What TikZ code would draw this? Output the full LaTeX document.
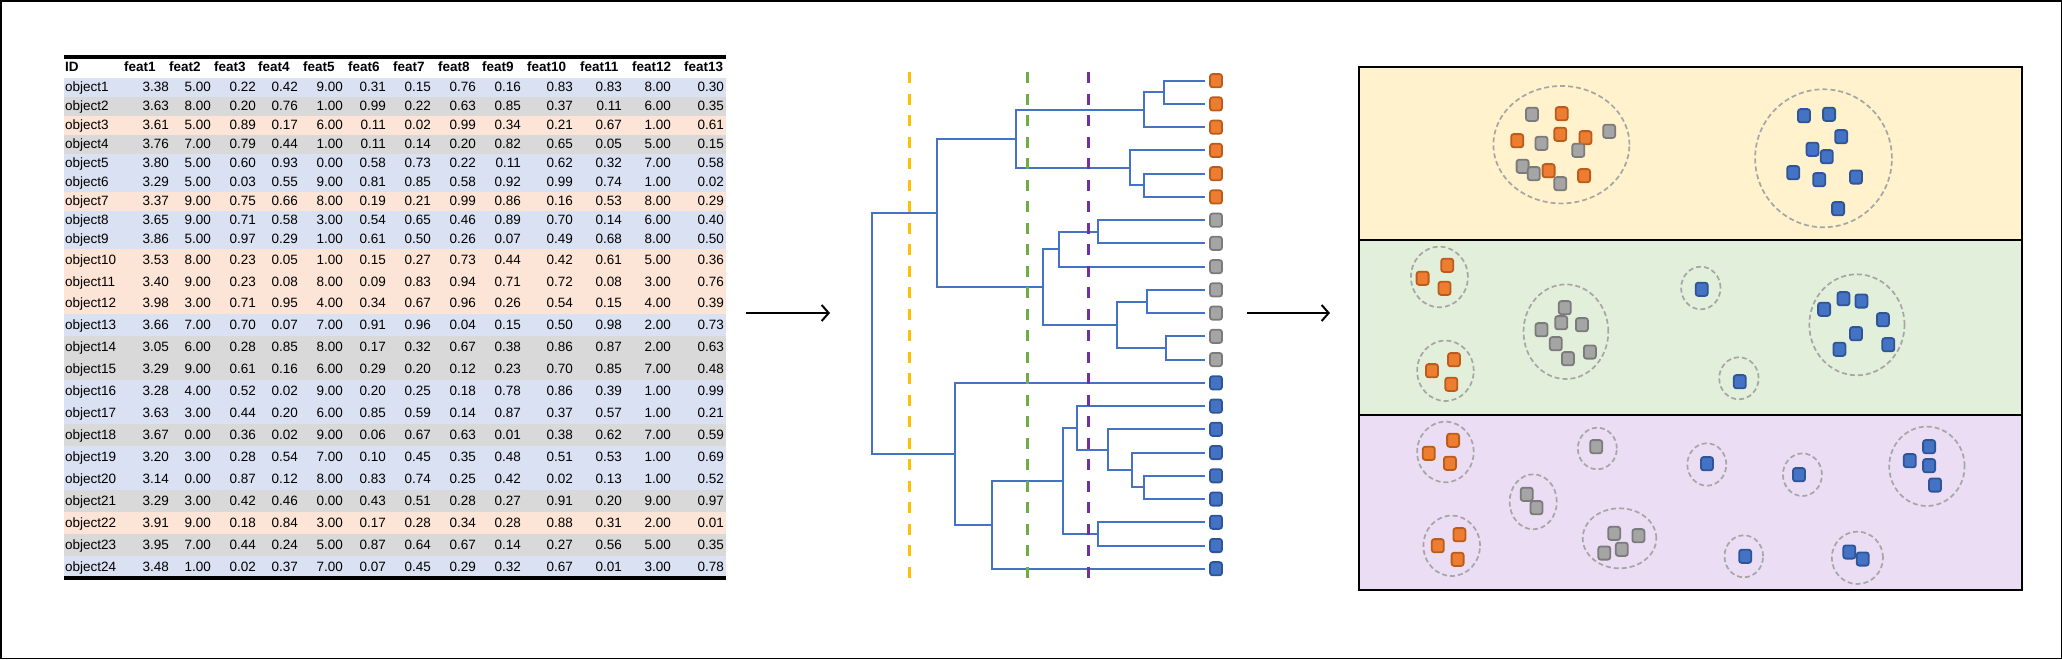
\documentclass[tikz,border=0pt]{standalone}
\usepackage{fontspec}
\setmainfont{Liberation Sans}
\usetikzlibrary{arrows.meta}
\definecolor{rowblue}{HTML}{D9E1F2}
\definecolor{rowgray}{HTML}{D9D9D9}
\definecolor{roworange}{HTML}{FCE4D6}
\definecolor{dendblue}{HTML}{4472C4}
\definecolor{ofill}{HTML}{ED7D31}
\definecolor{oline}{HTML}{BC5C1C}
\definecolor{gfill}{HTML}{A5A5A5}
\definecolor{gline}{HTML}{7B7B7B}
\definecolor{bfill}{HTML}{4472C4}
\definecolor{bline}{HTML}{2F5597}
\definecolor{cutyellow}{HTML}{FFC000}
\definecolor{cutgreen}{HTML}{70AD47}
\definecolor{cutpurple}{HTML}{7030A0}
\definecolor{bandyellow}{HTML}{FFF2CC}
\definecolor{bandgreen}{HTML}{E2EFDA}
\definecolor{bandpurple}{HTML}{EADDF4}
\definecolor{ringgray}{HTML}{A6A6A6}

\begin{document}
\begin{tikzpicture}[x=1pt,y=-1pt,
  font=\fontsize{13.5}{16}\selectfont,
  num/.style={anchor=base east,inner sep=0pt},
  lbl/.style={anchor=base west,inner sep=0pt},
  hd/.style={anchor=base west,inner sep=0pt,font=\fontsize{13.5}{16}\selectfont\bfseries},
  obj/.style={rectangle,rounded corners=2.5pt,minimum width=12pt,minimum height=13.2pt,inner sep=0pt,line width=1.8pt},
  leaf/.style={outer xsep=5pt},
  dend/.style={draw=dendblue,line width=2pt},
  cut/.style={line width=3pt,dash pattern=on 11pt off 10.5pt},
  ring/.style={draw=ringgray,line width=1.7pt,dash pattern=on 5pt off 3pt},
  band/.style={draw=black,line width=2.5pt}]
\useasboundingbox (0,0) rectangle (2062,659);
\draw[line width=1.5pt] (0.75,0.75) rectangle (2061.25,658.25);

% data table
\foreach \n/\yc/\h/\c/\vals in {
  1/87/19/rowblue/{3.38,5.00,0.22,0.42,9.00,0.31,0.15,0.76,0.16,0.83,0.83,8.00,0.30},
  2/106/19/rowgray/{3.63,8.00,0.20,0.76,1.00,0.99,0.22,0.63,0.85,0.37,0.11,6.00,0.35},
  3/125/19/roworange/{3.61,5.00,0.89,0.17,6.00,0.11,0.02,0.99,0.34,0.21,0.67,1.00,0.61},
  4/144/19/rowgray/{3.76,7.00,0.79,0.44,1.00,0.11,0.14,0.20,0.82,0.65,0.05,5.00,0.15},
  5/163/19/rowblue/{3.80,5.00,0.60,0.93,0.00,0.58,0.73,0.22,0.11,0.62,0.32,7.00,0.58},
  6/182/19/rowblue/{3.29,5.00,0.03,0.55,9.00,0.81,0.85,0.58,0.92,0.99,0.74,1.00,0.02},
  7/201/19/roworange/{3.37,9.00,0.75,0.66,8.00,0.19,0.21,0.99,0.86,0.16,0.53,8.00,0.29},
  8/220/19/rowblue/{3.65,9.00,0.71,0.58,3.00,0.54,0.65,0.46,0.89,0.70,0.14,6.00,0.40},
  9/239/19/rowblue/{3.86,5.00,0.97,0.29,1.00,0.61,0.50,0.26,0.07,0.49,0.68,8.00,0.50},
  10/259.4/21.8/roworange/{3.53,8.00,0.23,0.05,1.00,0.15,0.27,0.73,0.44,0.42,0.61,5.00,0.36},
  11/281.2/21.8/roworange/{3.40,9.00,0.23,0.08,8.00,0.09,0.83,0.94,0.71,0.72,0.08,3.00,0.76},
  12/303/21.8/roworange/{3.98,3.00,0.71,0.95,4.00,0.34,0.67,0.96,0.26,0.54,0.15,4.00,0.39},
  13/325/22/rowblue/{3.66,7.00,0.70,0.07,7.00,0.91,0.96,0.04,0.15,0.50,0.98,2.00,0.73},
  14/347/22/rowgray/{3.05,6.00,0.28,0.85,8.00,0.17,0.32,0.67,0.38,0.86,0.87,2.00,0.63},
  15/369/22/rowgray/{3.29,9.00,0.61,0.16,6.00,0.29,0.20,0.12,0.23,0.70,0.85,7.00,0.48},
  16/391/22/rowblue/{3.28,4.00,0.52,0.02,9.00,0.20,0.25,0.18,0.78,0.86,0.39,1.00,0.99},
  17/413/22/rowblue/{3.63,3.00,0.44,0.20,6.00,0.85,0.59,0.14,0.87,0.37,0.57,1.00,0.21},
  18/435/22/rowgray/{3.67,0.00,0.36,0.02,9.00,0.06,0.67,0.63,0.01,0.38,0.62,7.00,0.59},
  19/457/22/rowblue/{3.20,3.00,0.28,0.54,7.00,0.10,0.45,0.35,0.48,0.51,0.53,1.00,0.69},
  20/479/22/rowblue/{3.14,0.00,0.87,0.12,8.00,0.83,0.74,0.25,0.42,0.02,0.13,1.00,0.52},
  21/501/22/rowgray/{3.29,3.00,0.42,0.46,0.00,0.43,0.51,0.28,0.27,0.91,0.20,9.00,0.97},
  22/523/22/roworange/{3.91,9.00,0.18,0.84,3.00,0.17,0.28,0.34,0.28,0.88,0.31,2.00,0.01},
  23/545/22/rowgray/{3.95,7.00,0.44,0.24,5.00,0.87,0.64,0.67,0.14,0.27,0.56,5.00,0.35},
  24/567/22/rowblue/{3.48,1.00,0.02,0.37,7.00,0.07,0.45,0.29,0.32,0.67,0.01,3.00,0.78}}{
  \fill[\c] (64,\yc-\h/2) rectangle (726,\yc+\h/2);
  \node[lbl] (id\n) at (65,\yc+4.8) {object\n};
  \foreach \v [count=\k] in \vals {
    \pgfmathsetmacro\cx{{169,211,256,298,343,386,431,476,521,573,622,671,724}[\k-1]}
    \node[num] (c\n-\k) at (\cx,\yc+4.8) {\v};
  }
}
\node[hd] (hid) at (65,71.8) {ID};
\foreach \x [count=\k] in {124,169,214,258,303,348,393,438,482,527,580,632,684}
  \node[hd] (h\k) at (\x,71.8) {feat\k};
\draw[line width=3.5pt] (64,57) -- (726,57);
\draw[line width=3.5pt] (64,578) -- (726,578);

% dendrogram
\foreach \c [count=\k] in {o,o,o,o,o,o,g,g,g,g,g,g,g,b,b,b,b,b,b,b,b,b}
  \node[obj,leaf,fill=\c fill,draw=\c line] (l\k) at (1216,{80.7+23.24*(\k-1)}) {};
\foreach \m/\x/\y in {m12/1164/92.3, m123/1144/109.8, m56/1144/185.3, m456/1130/167.9,
    mor/1015.7/138.8, m78/1098/231.8, m789/1059/249.2, m1011/1147/301.5,
    m1213/1166/348, m1013/1117/324.7, mgr/1043/287, mog/937/212.9,
    m1819/1144/487.4, m1719/1132/470, m1619/1108/449.6, m1519/1077/427.8,
    m2021/1098/533.9, m1521/1063/480.8, m1522/992/524.8, mbl/955/453.8, root/872/333.4}
  \coordinate (\m) at (\x,\y);
\foreach \a/\m/\b in {l1/m12/l2, m12/m123/l3, l5/m56/l6, l4/m456/m56, m123/mor/m456,
    l7/m78/l8, m78/m789/l9, l10/m1011/l11, l12/m1213/l13, m1011/m1013/m1213,
    m789/mgr/m1013, mor/mog/mgr, l18/m1819/l19, l17/m1719/m1819, l16/m1619/m1719,
    l15/m1519/m1619, l20/m2021/l21, m1519/m1521/m2021, m1521/m1522/l22,
    l14/mbl/m1522, mog/root/mbl}
  \draw[dend] (\a) -| (\m) |- (\b);
\draw[cut,cutyellow] (909,72) -- (909,587);
\draw[cut,cutgreen] (1027,72) -- (1027,587);
\draw[cut,cutpurple] (1088,72) -- (1088,587);

% arrows
\coordinate (a1s) at (746,313);
\coordinate (a1e) at (830,313);
\coordinate (a2s) at (1247,313);
\coordinate (a2e) at (1330,313);
\draw[-{Straight Barb[length=7pt,width=16pt]},line width=2pt] (a1s) -- (a1e);
\draw[-{Straight Barb[length=7pt,width=16pt]},line width=2pt] (a2s) -- (a2e);

% clusterings
\draw[band,fill=bandyellow] (1359,67) rectangle (2022,240);
\draw[band,fill=bandgreen] (1359,240) rectangle (2022,415);
\draw[band,fill=bandpurple] (1359,415) rectangle (2022,590);
\foreach \x/\y/\rx/\ry in {1561.4/144.7/68/58.7, 1823.5/158.3/68.4/69,
    1439.4/277/28.5/30.3, 1445.4/370.8/28.3/30.2, 1565.9/331.7/42.4/47.3,
    1700.8/288/19.7/21.3, 1738.9/378.3/19.7/21, 1856.9/324.8/47.6/50.5,
    1445.4/452/28.3/30.3, 1451.7/545.8/28.3/30.2, 1597.3/448.5/19.5/20.8,
    1533.2/501.8/23.6/27.5, 1619.5/538.3/36.8/30, 1706.8/464.5/19.5/21.2,
    1802.4/474.7/19.5/21.3, 1743.8/556.3/19.3/21, 1857.4/557.8/25.6/26.2,
    1926.9/466.3/37.7/39.7}
  \draw[ring] (\x,\y) ellipse [x radius=\rx pt, y radius=\ry pt];
\foreach \c/\x/\y [count=\i] in {
    g/1532/114.3, o/1561.7/113.7, g/1609.2/131.3, o/1517.2/140.7, g/1541.5/143.3,
    o/1560.3/134.3, o/1585.4/137.7, g/1578.3/150.3, g/1522.6/166.3, g/1533.8/173.7,
    o/1548.6/170.7, o/1584.1/175.7, g/1560.3/183.7,
    b/1804/115.7, b/1829.1/114.3, b/1841.2/136.7, b/1812.5/149.3, b/1826.8/156.7,
    b/1793.2/172.7, b/1819.2/179.7, b/1856/177, b/1838.1/208.7}
  \node[obj,fill=\c fill,draw=\c line] (ka\i) at (\x,\y) {};
\foreach \c/\x/\y [count=\i] in {
    o/1447.2/265.3, o/1422.6/278.3, o/1444.5/288.3,
    o/1454/359.7, o/1432/370.7, o/1451.3/384.3,
    g/1564.8/307.7, g/1561.2/322.7, g/1581.9/324.7, g/1541.5/329.7, g/1555.8/343.7,
    g/1567.9/358.7, g/1589.9/352,
    b/1701.7/289.3, b/1739.8/381.7,
    b/1824.1/309.3, b/1843.4/298.7, b/1861.4/301, b/1882.9/319.7, b/1856/333.7,
    b/1839.4/349.3, b/1888.3/344.7}
  \node[obj,fill=\c fill,draw=\c line] (kb\i) at (\x,\y) {};
\foreach \c/\x/\y [count=\i] in {
    o/1453.1/440.3, o/1428.8/453.3, o/1449.9/463.3,
    o/1459.4/534.7, o/1437.8/545.7, o/1457.6/559.3,
    g/1596.2/446.7, g/1526.7/494.3, g/1536.5/507.7,
    g/1614.2/533.3, g/1638.4/535.7, g/1621.8/549.3, g/1604.3/553,
    b/1707/463.7, b/1799/474.7, b/1745.2/556.3,
    b/1849.3/552, b/1862.7/559,
    b/1929.1/446.7, b/1909.8/460.7, b/1929.1/465.7, b/1935/485}
  \node[obj,fill=\c fill,draw=\c line] (kc\i) at (\x,\y) {};
\end{tikzpicture}
\end{document}
